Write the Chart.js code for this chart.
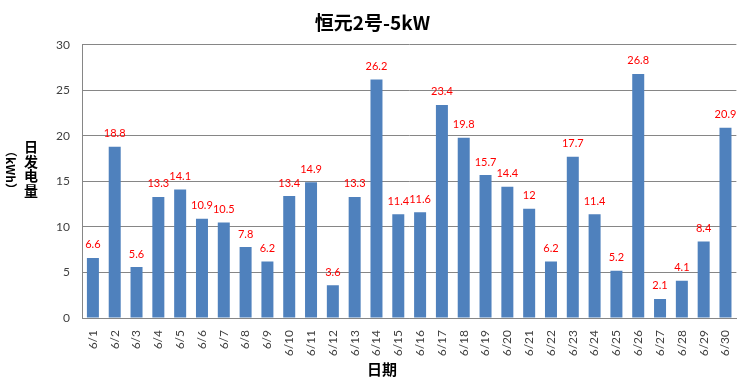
<!DOCTYPE html>
<html><head><meta charset="utf-8">
<script src="https://cdn.jsdelivr.net/npm/chart.js@4/dist/chart.umd.min.js"></script>
<style>html,body{margin:0;padding:0;background:#fff;}#wrap{width:752px;height:380px;}</style>
</head><body><div id="wrap"><canvas id="c" width="752" height="380"></canvas></div>
<script>
const categories = ["6/1","6/2","6/3","6/4","6/5","6/6","6/7","6/8","6/9","6/10","6/11","6/12","6/13","6/14","6/15","6/16","6/17","6/18","6/19","6/20","6/21","6/22","6/23","6/24","6/25","6/26","6/27","6/28","6/29","6/30"];
const dailyEnergy = [6.6,18.8,5.6,13.3,14.1,10.9,10.5,7.8,6.2,13.4,14.9,3.6,13.3,26.2,11.4,11.6,23.4,19.8,15.7,14.4,12,6.2,17.7,11.4,5.2,26.8,2.1,4.1,8.4,20.9];
const yTicks = [0,5,10,15,20,25,30];
const titleText = "恒元2号-5kW";
const xTitle = "日期";
const yTitleCJK = "日发电量";
const yTitleUnit = "（kWh）";

const labelPlugin = {
  id: 'extras',
  afterDatasetsDraw(chart) {
    const ctx = chart.ctx;
    const meta = chart.getDatasetMeta(0);
    ctx.save();
    ctx.fillStyle = '#ff0000';
    ctx.font = '11px Lato, "Liberation Sans", sans-serif';
    ctx.textAlign = 'center';
    ctx.textBaseline = 'middle';
    meta.data.forEach((bar, i) => {
      ctx.fillText(String(dailyEnergy[i]), bar.x, bar.y - 13);
    });
    ctx.restore();
  },
  afterDraw(chart) {
    const ctx = chart.ctx;
    ctx.save();
    ctx.fillStyle = '#000';
    ctx.font = 'bold 15px "Noto Sans CJK SC", sans-serif';
    ctx.textAlign = 'center';
    ctx.textBaseline = 'middle';
    ctx.fillText(xTitle, 382, 369);
    // stacked CJK y title
    ctx.font = 'bold 14px "Noto Sans CJK SC", sans-serif';
    const chars = Array.from(yTitleCJK);
    chars.forEach((ch, i) => {
      ctx.fillText(ch, 31, 147 + i * 14.5);
    });
    // rotated unit
    ctx.font = 'bold 12px "Noto Sans CJK SC", sans-serif';
    ctx.translate(11, 170);
    ctx.rotate(Math.PI / 2);
    ctx.fillText(yTitleUnit, 0, 0);
    ctx.restore();
  }
};

new Chart(document.getElementById('c'), {
  type: 'bar',
  data: {
    labels: categories,
    datasets: [{
      data: dailyEnergy,
      backgroundColor: '#4f81bd',
      borderWidth: 0,
      categoryPercentage: 1,
      barPercentage: 0.55
    }]
  },
  options: {
    responsive: false,
    animation: false,
    events: [],
    layout: { padding: { left: 0, right: 7, top: 0, bottom: 0 } },
    plugins: {
      legend: { display: false },
      tooltip: { enabled: false },
      title: {
        display: true,
        text: titleText,
        color: '#000',
        font: { family: '"Noto Sans CJK SC", sans-serif', size: 19, weight: 'bold', lineHeight: 1.2 },
        padding: { top: 11, bottom: 11 }
      }
    },
    scales: {
      x: {
        grid: { display: false, drawTicks: false },
        border: { display: true, color: '#868686', width: 1 },
        ticks: {
          color: '#404040',
          font: { family: 'Lato, "Liberation Sans", sans-serif', size: 12 },
          minRotation: 90, maxRotation: 90,
          padding: 12,
          autoSkip: false
        },
        afterFit(scale) { scale.height = 62; }
      },
      y: {
        min: 0, max: 30,
        afterBuildTicks(scale) { scale.ticks = yTicks.map(v => ({ value: v })); },
        grid: { color: '#868686', drawTicks: false, lineWidth: 1 },
        border: { display: true, color: '#868686', width: 1 },
        ticks: {
          color: '#404040',
          font: { family: 'Lato, "Liberation Sans", sans-serif', size: 12 },
          padding: 12
        },
        afterFit(scale) { scale.width = 82; }
      }
    }
  },
  plugins: [labelPlugin]
});
</script>
</body></html>
